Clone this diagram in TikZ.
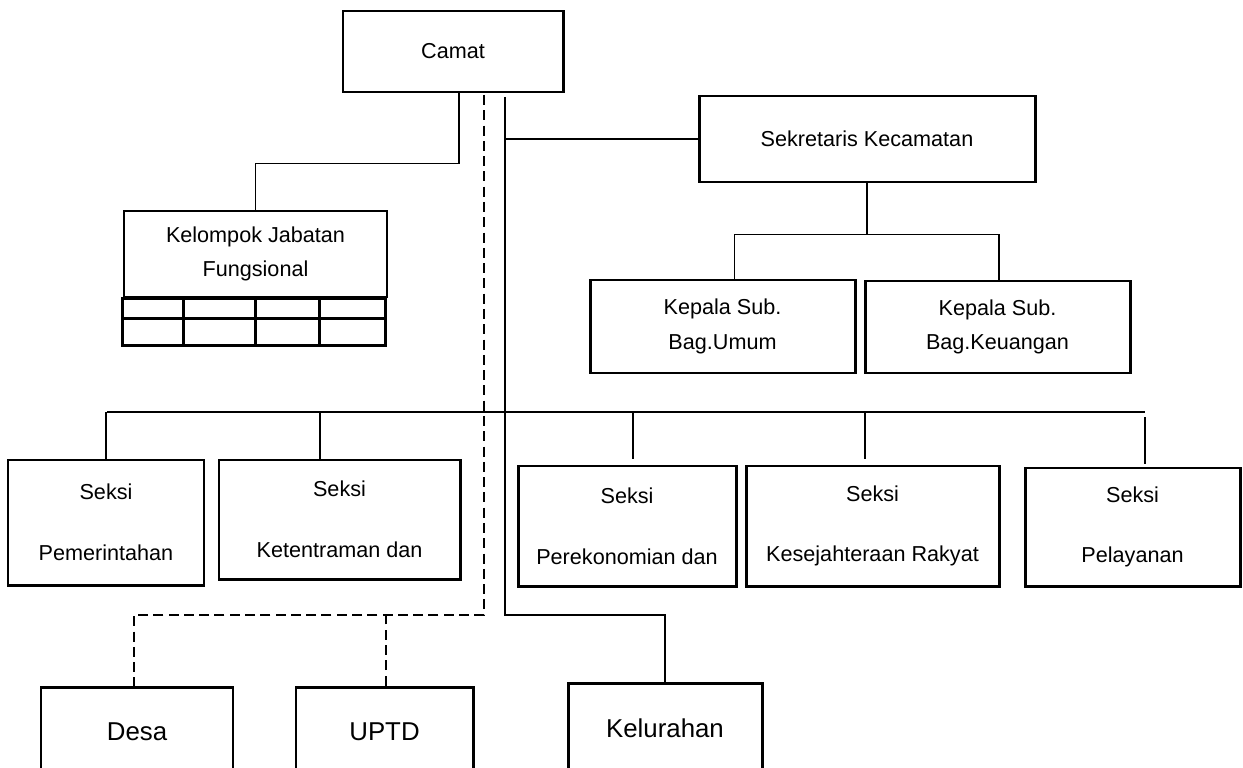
\documentclass[tikz,border=0pt]{standalone}
\usepackage{fontspec}
\setmainfont{Liberation Sans}
\begin{document}
\begin{tikzpicture}[x=0.02cm,y=-0.02cm,
  font=\fontsize{12.3}{19.6}\selectfont,
  box/.style 2 args={draw,line width=1.7pt,minimum width=#1*0.02cm,
                     minimum height=#2*0.02cm,inner sep=0pt,align=center},
  big/.style={font=\fontsize{14.7}{18}\selectfont},
  link/.style={line width=1pt},
  dashlink/.style={line width=1pt,dash pattern=on 5.7pt off 3pt}]

\clip (0,0) rectangle (1243,767);

% ---- top ----
\node[box={220}{81}] (camat) at (453,51.5) {Camat};
\node[box={336}{86}] (sekcam) at (867,139) {Sekretaris Kecamatan};
\node[box={263}{86}] (kjf) at (255.5,254) {Kelompok Jabatan\\Fungsional};
\node[box={265}{93}] (kasubum) at (722.5,326.5) {Kepala Sub.\\Bag.Umum};
\node[box={265}{92}] (kasubkeu) at (997.5,327) {Kepala Sub.\\Bag.Keuangan};

% small table below kjf
\draw[line width=1.5pt] (kjf.south west) rectangle ++(263,47);
\draw[line width=1.5pt] (kjf.south west) ++(0,20) -- ++(263,0);
\foreach \dx in {61,133,197}
  \draw[line width=1.5pt] (kjf.south west) ++(\dx,0) -- ++(0,47);

% ---- seksi ----
\node[box={196}{125}] (pemerintahan) at (106,522.5) {Seksi\\[15pt]Pemerintahan};
\node[box={241}{119}] (ketentraman) at (339.5,519.5) {Seksi\\[15pt]Ketentraman dan};
\node[box={218}{120}] (perekonomian) at (627,526) {Seksi\\[15pt]Perekonomian dan};
\node[box={253}{120}] (kesra) at (872.5,526) {Seksi\\[15pt]Kesejahteraan Rakyat};
\node[box={215}{118}] (pelayanan) at (1132.5,527) {Seksi\\[15pt]Pelayanan};

% ---- bottom ----
\node[box={192}{90},big] (desa) at (137,732) {Desa};
\node[box={177}{90},big] (uptd) at (384.5,732) {UPTD};
\node[box={194}{90},big] (kelurahan) at (665,728) {Kelurahan};

% ---- connectors ----
\coordinate (dtop) at (484,95);
\coordinate (dj) at (484,615);
\coordinate (ltop) at (505,97);
\coordinate (lj) at (505,615);
\coordinate (busl) at (107,412);
\coordinate (busr) at (1145,412);

\draw[link] (camat.south) ++(6,0) -- ++(0,70) -| (kjf.north);
\draw[link] (ltop) -- (lj) -| (kelurahan.north);
\draw[link] (sekcam.west) -- (sekcam.west -| ltop);
\draw[link] (sekcam.south) -- ++(0,51) coordinate (sj);
\draw[link] (kasubum.north) ++(12,0) |- (sj) -| ([xshift=0.03cm]kasubkeu.north);

\draw[dashlink] (dtop) -- (dj) -| ([xshift=-0.06cm]desa.north);
\draw[dashlink] (uptd.north) ++(1.5,0) -- ++(0,-72);

\draw[line width=1.2pt] (busl) -- (busr);
\draw[link] (pemerintahan.north) -- (pemerintahan.north |- busl);
\draw[link] (ketentraman.north) ++(-19.5,0) -- ++(0,-48);
\draw[link] (perekonomian.north) ++(6,-6) -- ++(0,-48);
\draw[link] (kesra.north) ++(-7.5,-6) -- ++(0,-48);
\draw[link] (pelayanan.north) ++(12.5,-3) -- ++(0,-47);
\end{tikzpicture}
\end{document}
